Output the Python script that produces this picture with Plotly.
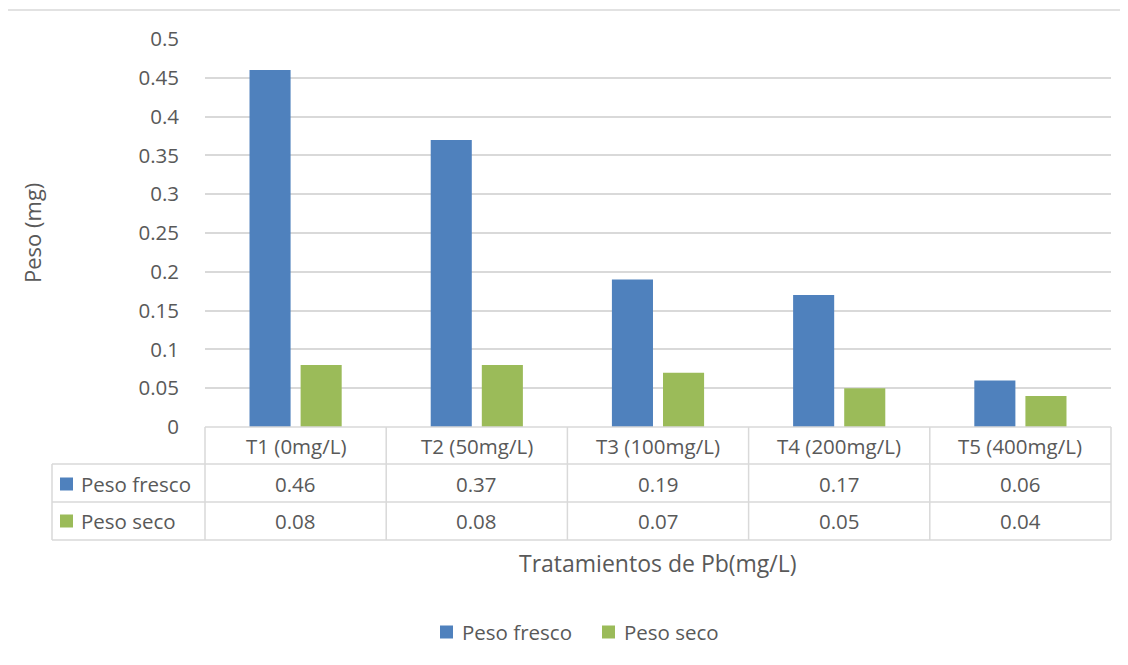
import plotly.graph_objects as go

categories = ["T1 (0mg/L)", "T2 (50mg/L)", "T3 (100mg/L)", "T4 (200mg/L)", "T5 (400mg/L)"]
series_names = ["Peso fresco", "Peso seco"]
peso_fresco = [0.46, 0.37, 0.19, 0.17, 0.06]
peso_seco = [0.08, 0.08, 0.07, 0.05, 0.04]
y_ticks = [0, 0.05, 0.1, 0.15, 0.2, 0.25, 0.3, 0.35, 0.4, 0.45, 0.5]

COLORS = ["#4F81BD", "#9BBB59"]
TEXT = "#595959"
GRID = "#D9D9D9"
FONT = "Open Sans"

W, H = 1128, 665
OFF = 8  # page body margin
PL, PR, PT, PB = 205, 1111, 39, 427  # plot area in page pixels


def px(x):
    return (x - PL) / (PR - PL)


def py(y):
    return (PB - y) / (PB - PT)


fig = go.Figure()
for name, vals, col in zip(series_names, [peso_fresco, peso_seco], COLORS):
    fig.add_trace(go.Bar(x=categories, y=vals, name=name, marker=dict(color=col, line=dict(width=0)),
                         showlegend=False))

shapes = []
line = dict(color=GRID, width=1.5)
# table horizontal lines
shapes.append(dict(type="line", xref="paper", yref="paper", x0=px(205), x1=px(1111), y0=py(427), y1=py(427), line=line))
for yy in [464, 502, 540]:
    shapes.append(dict(type="line", xref="paper", yref="paper", x0=px(52), x1=px(1111), y0=py(yy), y1=py(yy), line=line))
# table vertical lines
shapes.append(dict(type="line", xref="paper", yref="paper", x0=px(52), x1=px(52), y0=py(464), y1=py(540), line=line))
n = len(categories)
for i in range(n + 1):
    xx = i / n
    shapes.append(dict(type="line", xref="paper", yref="paper", x0=xx, x1=xx, y0=py(427), y1=py(540), line=line))
# outer chart border (left/top visible)
shapes.append(dict(type="line", xref="paper", yref="paper", x0=px(7), x1=px(7), y0=py(10), y1=py(700), line=dict(color=GRID, width=1.5)))
shapes.append(dict(type="line", xref="paper", yref="paper", x0=px(7), x1=px(1140), y0=py(10), y1=py(10), line=dict(color=GRID, width=1.5)))

annotations = []
fs = 20.5
# header row labels
for c in categories:
    annotations.append(dict(x=c, xref="x", y=py(446), yref="paper", text=c, showarrow=False,
                            font=dict(family=FONT, size=fs, color=TEXT), xanchor="center", yanchor="middle"))
# value rows
row_y = [484, 521]
for name, vals, col, ry in zip(series_names, [peso_fresco, peso_seco], COLORS, row_y):
    shapes.append(dict(type="rect", xref="paper", yref="paper", x0=px(60), x1=px(73), y0=py(ry - 6.5), y1=py(ry + 6.5),
                       fillcolor=col, line=dict(width=0)))
    annotations.append(dict(x=px(79), xref="paper", y=py(ry), yref="paper", text=name, showarrow=False,
                            font=dict(family=FONT, size=fs, color=TEXT), xanchor="left", yanchor="middle"))
    for c, v in zip(categories, vals):
        annotations.append(dict(x=c, xref="x", y=py(ry), yref="paper", text=f"{v:.2f}", showarrow=False,
                                font=dict(family=FONT, size=fs, color=TEXT), xanchor="center", yanchor="middle"))

# axis titles
annotations.append(dict(x=0.5, xref="paper", y=py(563), yref="paper", text="Tratamientos de Pb(mg/L)", showarrow=False,
                        font=dict(family=FONT, size=23, color=TEXT), xanchor="center", yanchor="middle"))
annotations.append(dict(x=px(32), xref="paper", y=py(233), yref="paper", text="Peso (mg)", showarrow=False, textangle=-90,
                        font=dict(family=FONT, size=22, color=TEXT), xanchor="center", yanchor="middle"))

# legend (manual)
leg_y = 632
for name, col, sx in zip(series_names, COLORS, [440, 602]):
    shapes.append(dict(type="rect", xref="paper", yref="paper", x0=px(sx), x1=px(sx + 13), y0=py(leg_y - 6.5), y1=py(leg_y + 6.5),
                       fillcolor=col, line=dict(width=0)))
    annotations.append(dict(x=px(sx + 20), xref="paper", y=py(leg_y), yref="paper", text=name, showarrow=False,
                            font=dict(family=FONT, size=fs, color=TEXT), xanchor="left", yanchor="middle"))

fig.update_layout(
    width=W, height=H,
    margin=dict(l=PL - OFF, r=W - (PR - OFF), t=PT - OFF, b=H - (PB - OFF), autoexpand=False),
    paper_bgcolor="white", plot_bgcolor="white",
    barmode="group", bargap=0.436, bargroupgap=0.196,
    font=dict(family=FONT, color=TEXT, size=fs),
    shapes=shapes, annotations=annotations,
    showlegend=False,
)
fig.update_xaxes(showticklabels=False, showgrid=False, zeroline=False, showline=False, ticks="",
                 categoryorder="array", categoryarray=categories)
fig.update_yaxes(range=[0, 0.5], tickvals=y_ticks, showgrid=True, gridcolor=GRID, gridwidth=1.5,
                 zeroline=False, showline=False, ticks="", ticklabelstandoff=25,
                 tickfont=dict(family=FONT, size=fs, color=TEXT))

fig.write_html("out.html")
